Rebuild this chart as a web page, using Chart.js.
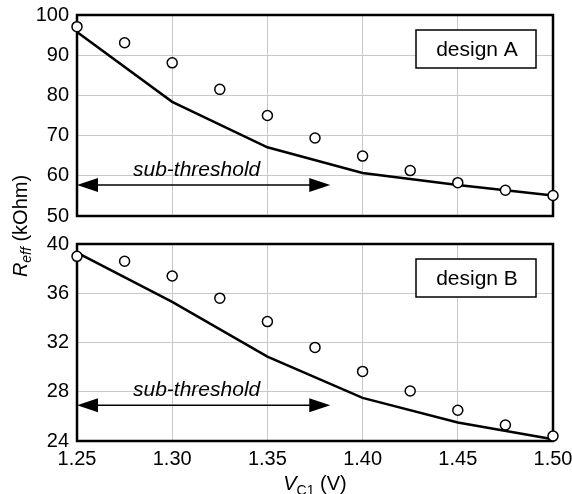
<!DOCTYPE html>
<html>
<head>
<meta charset="utf-8">
<script src="https://cdn.jsdelivr.net/npm/chart.js@4"></script>
<style>
  body { margin: 0; background: #fff; }
  #wrap { position: relative; width: 572px; height: 494px; overflow: hidden; font-family: "Liberation Sans", Arial, sans-serif; }
  canvas { position: absolute; left: 0; }
  #ytitle {
    position: absolute; left: -80px; top: 214px; width: 200px; height: 24px;
    line-height: 24px; text-align: center; font-size: 20px; color: #000;
    transform: rotate(-90deg); white-space: nowrap;
  }
  #ytitle sub { font-size: 14px; font-style: italic; vertical-align: -4px; line-height: 0; }
</style>
</head>
<body>
<div id="wrap">
  <canvas id="panelA" width="572" height="230" style="top:0"></canvas>
  <canvas id="panelB" width="572" height="264" style="top:230px"></canvas>
  <div id="ytitle"><i>R</i><sub>eff</sub> (kOhm)</div>
</div>
<script>
// V_C1 sweep (V)
const vcMeas = [1.25, 1.275, 1.30, 1.325, 1.35, 1.375, 1.40, 1.425, 1.45, 1.475, 1.50];
const vcModel = [1.25, 1.30, 1.35, 1.40, 1.45, 1.50];

// design A, R_eff in kOhm
const aMeas = [97.1, 93.1, 88.1, 81.5, 75.0, 69.4, 64.9, 61.3, 58.3, 56.4, 55.1];
const aModel = [95.8, 78.4, 67.1, 60.7, 57.7, 55.1];

// design B, R_eff in kOhm
const bMeas = [39.0, 38.6, 37.4, 35.6, 33.7, 31.6, 29.65, 28.06, 26.5, 25.3, 24.4];
const bModel = [39.3, 35.3, 30.85, 27.5, 25.5, 24.15];

const FONT = '"Liberation Sans", Arial, sans-serif';

const panelDeco = {
  id: 'panelDeco',
  beforeDatasetsDraw(chart, args, o) {
    const ctx = chart.ctx;
    const a = chart.chartArea;
    const xs = chart.scales.x, ys = chart.scales.y;
    ctx.save();
    // frame
    ctx.strokeStyle = '#000';
    ctx.lineWidth = 2.5;
    ctx.strokeRect(a.left, a.top, a.right - a.left, a.bottom - a.top);

    // sub-threshold arrow
    const x0 = xs.getPixelForValue(o.arrowFrom);
    const x1 = xs.getPixelForValue(o.arrowTo);
    const y = ys.getPixelForValue(o.arrowAt);
    ctx.lineWidth = 1.5;
    ctx.beginPath();
    ctx.moveTo(x0 + 10, y);
    ctx.lineTo(x1 - 10, y);
    ctx.stroke();
    ctx.fillStyle = '#000';
    ctx.beginPath();
    ctx.moveTo(x0, y); ctx.lineTo(x0 + 21, y - 7); ctx.lineTo(x0 + 21, y + 7); ctx.closePath();
    ctx.fill();
    ctx.beginPath();
    ctx.moveTo(x1, y); ctx.lineTo(x1 - 21, y - 7); ctx.lineTo(x1 - 21, y + 7); ctx.closePath();
    ctx.fill();
    ctx.font = 'italic 21px ' + FONT;
    ctx.textAlign = 'center';
    ctx.textBaseline = 'alphabetic';
    ctx.fillText('sub-threshold', (x0 + x1) / 2 - 7, y - 9);

    // design label box
    const bx = a.right - 137, by = a.top + 15, bw = 120, bh = 38;
    ctx.fillStyle = '#fff';
    ctx.fillRect(bx, by, bw, bh);
    ctx.lineWidth = 1.5;
    ctx.strokeRect(bx, by, bw, bh);
    ctx.fillStyle = '#000';
    ctx.font = '21px ' + FONT;
    ctx.textBaseline = 'middle';
    ctx.fillText(o.label, bx + bw / 2 + 1, by + bh / 2 + 1);
    ctx.restore();
  },
  afterDraw(chart, args, o) {
    if (!o.xTitle) return;
    const ctx = chart.ctx;
    const a = chart.chartArea;
    ctx.save();
    ctx.fillStyle = '#000';
    ctx.textBaseline = 'alphabetic';
    ctx.textAlign = 'left';
    const fMain = 'italic 20px ' + FONT, fSub = '14px ' + FONT, fRest = '20px ' + FONT;
    ctx.font = fMain; const w1 = ctx.measureText('V').width;
    ctx.font = fSub; const w2 = ctx.measureText('C1').width;
    ctx.font = fRest; const w3 = ctx.measureText(' (V)').width;
    let x = (a.left + a.right) / 2 - (w1 + w2 + w3) / 2;
    const y = a.bottom + 49;
    ctx.font = fMain; ctx.fillText('V', x, y); x += w1;
    ctx.font = fSub; ctx.fillText('C1', x, y + 5); x += w2;
    ctx.font = fRest; ctx.fillText(' (V)', x, y);
    ctx.restore();
  }
};

function makePanel(id, meas, model, yMin, yMax, yStep, labelStep, deco, bottom) {
  return new Chart(document.getElementById(id), {
    type: 'scatter',
    data: {
      datasets: [{
        label: 'measured',
        data: vcMeas.map((v, i) => ({ x: v, y: meas[i] })),
        showLine: false,
        pointRadius: 5,
        pointBorderWidth: 1.5,
        pointBackgroundColor: '#fff',
        pointBorderColor: '#000',
        clip: false,
        order: 0
      }, {
        label: 'model',
        data: vcModel.map((v, i) => ({ x: v, y: model[i] })),
        showLine: true,
        borderColor: '#000',
        borderWidth: 2.5,
        pointRadius: 0,
        tension: 0,
        clip: false,
        order: 1
      }]
    },
    options: {
      responsive: false,
      animation: false,
      devicePixelRatio: 1,
      layout: { padding: { left: 0, right: 19, top: bottom ? 14 : 15, bottom: bottom ? 0 : 14 } },
      plugins: { legend: { display: false }, tooltip: { enabled: false }, panelDeco: deco },
      scales: {
        x: {
          type: 'linear', min: 1.25, max: 1.50,
          ticks: {
            display: bottom, stepSize: 0.05, padding: 6, color: '#000',
            font: { family: FONT, size: 20 },
            callback: v => v.toFixed(2)
          },
          grid: { color: '#c8c8c8', lineWidth: 1, drawTicks: false },
          border: { display: false },
          afterFit: s => { s.height = bottom ? 53 : 0; s.paddingLeft = 0; s.paddingRight = 0; }
        },
        y: {
          min: yMin, max: yMax,
          ticks: {
            stepSize: yStep, padding: 8, color: '#000',
            font: { family: FONT, size: 20 },
            callback: v => (Math.round(v) % labelStep === 0 ? String(v) : '')
          },
          grid: { color: '#c8c8c8', lineWidth: 1, drawTicks: false },
          border: { display: false },
          afterFit: s => { s.width = 77; s.paddingTop = 0; s.paddingBottom = 0; }
        }
      }
    },
    plugins: [panelDeco]
  });
}

makePanel('panelA', aMeas, aModel, 50, 100, 10, 10,
  { label: 'design A', arrowFrom: 1.25, arrowTo: 1.383, arrowAt: 57.7, xTitle: false }, false);
makePanel('panelB', bMeas, bModel, 24, 40, 2, 4,
  { label: 'design B', arrowFrom: 1.25, arrowTo: 1.383, arrowAt: 26.9, xTitle: true }, true);
</script>
</body>
</html>
